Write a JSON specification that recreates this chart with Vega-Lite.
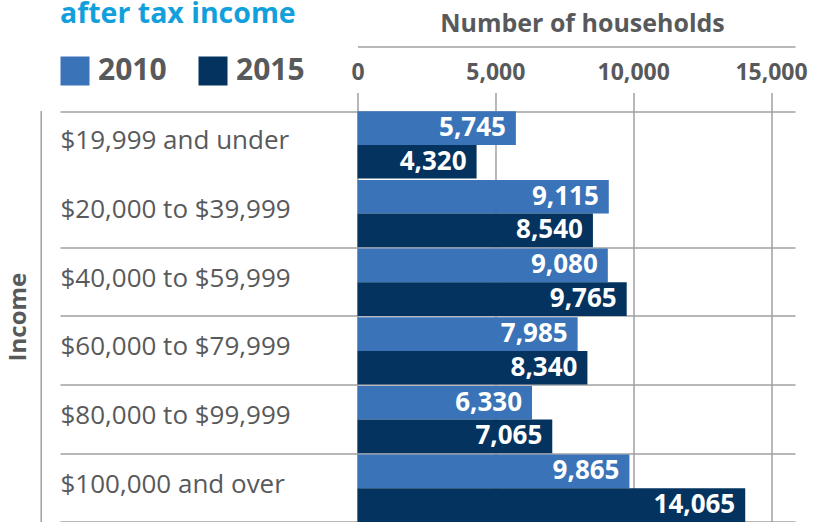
{
  "$schema": "https://vega.github.io/schema/vega-lite/v6.json",
  "width": 437.5,
  "height": 412,
  "autosize": {"type": "none"},
  "padding": {"left": 357.5, "top": 110.6, "right": 19, "bottom": 0},
  "config": {"view": {"stroke": null}, "font": "Open Sans"},
  "data": {
    "values": [
      {"income": "$19,999 and under", "year": "2010", "households": 5745},
      {"income": "$19,999 and under", "year": "2015", "households": 4320},
      {"income": "$20,000 to $39,999", "year": "2010", "households": 9115},
      {"income": "$20,000 to $39,999", "year": "2015", "households": 8540},
      {"income": "$40,000 to $59,999", "year": "2010", "households": 9080},
      {"income": "$40,000 to $59,999", "year": "2015", "households": 9765},
      {"income": "$60,000 to $79,999", "year": "2010", "households": 7985},
      {"income": "$60,000 to $79,999", "year": "2015", "households": 8340},
      {"income": "$80,000 to $99,999", "year": "2010", "households": 6330},
      {"income": "$80,000 to $99,999", "year": "2015", "households": 7065},
      {"income": "$100,000 and over", "year": "2010", "households": 9865},
      {"income": "$100,000 and over", "year": "2015", "households": 14065}
    ]
  },
  "layer": [
    {
      "mark": {"type": "bar"},
      "encoding": {
        "y": {
          "field": "income", "type": "nominal", "sort": null,
          "scale": {"paddingInner": 0.02, "paddingOuter": 0.01},
          "axis": {
            "title": null, "orient": "left", "domain": false,
            "tickBand": "extent", "ticks": true, "tickSize": 297.5,
            "tickColor": "#a0a0a4", "tickWidth": 1.5,
            "tickOpacity": {"condition": {"test": "datum.value === '$19,999 and under'", "value": 0}, "value": 1},
            "grid": true, "gridColor": "#a0a0a4", "gridWidth": 1.5,
            "gridOpacity": {"condition": {"test": "datum.value === '$19,999 and under'", "value": 0}, "value": 1},
            "labelAlign": "left", "labelBaseline": "middle", "labelPadding": 0,
            "labelFontSize": 26, "labelColor": "#58595b", "labelFont": "Open Sans",
            "labelLimit": 400, "labelOffset": -4
          }
        },
        "yOffset": {"field": "year", "type": "nominal", "scale": {"paddingInner": 0, "paddingOuter": 0}},
        "x": {
          "field": "households", "type": "quantitative",
          "scale": {"domain": [0, 15870], "nice": false, "zero": true},
          "axis": {
            "orient": "top", "title": null, "values": [0, 5000, 10000, 15000], "format": ",.0f",
            "domain": false, "ticks": true, "tickSize": 18, "tickColor": "#a0a0a4", "tickWidth": 1.5,
            "grid": true, "gridColor": "#a0a0a4", "gridWidth": 1.5,
            "labelFontSize": 23, "labelFontWeight": "bold", "labelColor": "#58595b",
            "labelPadding": 8, "labelFlush": false, "labelOverlap": false
          }
        },
        "color": {
          "field": "year", "type": "nominal",
          "scale": {"domain": ["2010", "2015"], "range": ["#3a73b8", "#03335e"]},
          "legend": {
            "orient": "none", "legendX": -297.5, "legendY": -110.6, "direction": "horizontal",
            "title": "after tax income", "titleFontSize": 28.5, "titleFontWeight": "bold",
            "titleColor": "#12a0dc", "titlePadding": 27.5, "titleLimit": 500,
            "symbolType": "square", "symbolSize": 841, "symbolStrokeWidth": 0, "symbolOpacity": 1,
            "labelFontSize": 30, "labelFontWeight": "bold", "labelColor": "#58595b",
            "labelOffset": 8, "columnPadding": 31, "padding": 0
          }
        }
      }
    },
    {
      "mark": {"type": "text", "align": "right", "baseline": "middle", "dx": -10, "color": "white", "fontWeight": "bold", "fontSize": 26},
      "encoding": {
        "y": {
          "field": "income", "type": "nominal", "sort": null,
          "axis": {
            "orient": "left", "offset": 316.8, "domain": true, "domainColor": "#a0a0a4", "domainWidth": 1.5,
            "ticks": false, "labels": false, "grid": false,
            "title": "Income", "titleFontSize": 24, "titleFontWeight": "bold", "titleColor": "#58595b", "titlePadding": 10
          }
        },
        "yOffset": {"field": "year", "type": "nominal"},
        "x": {
          "field": "households", "type": "quantitative",
          "axis": {
            "orient": "top", "offset": 64, "domain": true, "domainColor": "#a0a0a4", "domainWidth": 1.5,
            "ticks": false, "labels": false, "grid": false,
            "title": "Number of households", "titleFontSize": 25, "titleFontWeight": "bold",
            "titleColor": "#58595b", "titlePadding": 10, "titleX": 224.5
          }
        },
        "text": {"field": "households", "type": "quantitative", "format": ",.0f"}
      }
    }
  ],
  "resolve": {"axis": {"x": "independent", "y": "independent"}}
}
